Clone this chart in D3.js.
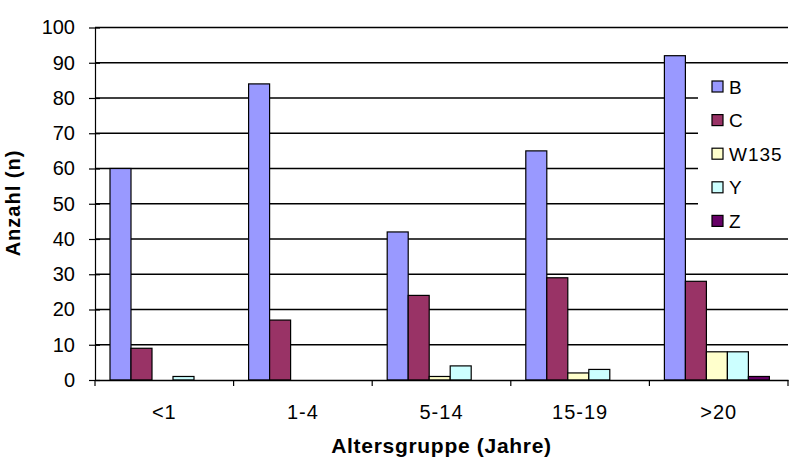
<!DOCTYPE html>
<html>
<head>
<meta charset="utf-8">
<script src="https://cdn.jsdelivr.net/npm/d3@7"></script>
<style>
  body { margin: 0; background: #fff; }
  text { font-family: "Liberation Sans", Arial, sans-serif; fill: #000; }
</style>
</head>
<body>
<div id="chart"></div>
<script>
// Chart data
const categories = ["<1", "1-4", "5-14", "15-19", ">20"];
const seriesNames = ["B", "C", "W135", "Y", "Z"];
const valuesB = [60, 84, 42, 65, 92];
const valuesC = [9, 17, 24, 29, 28];
const valuesW135 = [0, 0, 1, 2, 8];
const valuesY = [1, 0, 4, 3, 8];
const valuesZ = [0, 0, 0, 0, 1];
const seriesColors = ["#9999FF", "#993366", "#FFFFCC", "#CCFFFF", "#660066"];
const yTicks = [0, 10, 20, 30, 40, 50, 60, 70, 80, 90, 100];

const seriesValues = [valuesB, valuesC, valuesW135, valuesY, valuesZ];

const WIDTH = 800;
const HEIGHT = 470;
const PLOT = { left: 95, right: 788, top: 27.5, bottom: 380 };

const svg = d3
  .select("#chart")
  .append("svg")
  .attr("width", WIDTH)
  .attr("height", HEIGHT);

const xScaler = d3
  .scaleBand()
  .domain(categories)
  .range([PLOT.left, PLOT.right])
  .padding(0);

// bar slots inside one category
const innerScaler = d3
  .scaleBand()
  .domain(seriesNames)
  .range([15, 15 + 5 * 21])
  .padding(0);

const yScaler = d3.scaleLinear([0, 100], [PLOT.bottom, PLOT.top]);

// Gridlines
svg
  .append("g")
  .selectAll("line")
  .data(yTicks.filter((d) => d > 0))
  .enter()
  .append("line")
  .attr("x1", PLOT.left)
  .attr("x2", PLOT.right)
  .attr("y1", (d) => yScaler(d))
  .attr("y2", (d) => yScaler(d))
  .attr("stroke", "#000")
  .attr("stroke-width", 1.5);

// Legend background (covers gridlines)
const legendStep = 33.6;
svg
  .append("rect")
  .attr("x", 698)
  .attr("y", 66)
  .attr("width", 92)
  .attr("height", 172)
  .attr("fill", "#fff");

// Bars
const barData = [];
seriesNames.forEach((s, si) => {
  categories.forEach((c, ci) => {
    barData.push({ series: s, category: c, value: seriesValues[si][ci], color: seriesColors[si] });
  });
});

svg
  .append("g")
  .selectAll("rect")
  .data(barData.filter((d) => d.value > 0))
  .enter()
  .append("rect")
  .attr("x", (d) => xScaler(d.category) + innerScaler(d.series))
  .attr("y", (d) => yScaler(d.value))
  .attr("width", innerScaler.bandwidth())
  .attr("height", (d) => yScaler(0) - yScaler(d.value))
  .attr("fill", (d) => d.color)
  .attr("stroke", "#000")
  .attr("stroke-width", 1.2);

// Y axis
const yAxis = svg
  .append("g")
  .attr("transform", `translate(${PLOT.left},0)`)
  .call(d3.axisLeft(yScaler).tickValues(yTicks).tickSize(6).tickSizeOuter(0));
yAxis.select(".domain").attr("stroke", "#000").attr("stroke-width", 1.2);
yAxis.selectAll(".tick line").attr("x2", 5).attr("x1", -6).attr("stroke-width", 1.2);
yAxis
  .selectAll(".tick text")
  .style("font-size", "20px")
  .style("font-family", "Liberation Sans, Arial, sans-serif")
  .attr("x", -20);

// X axis
const xAxis = svg
  .append("g")
  .attr("transform", `translate(0,${PLOT.bottom})`)
  .call(d3.axisBottom(xScaler).tickSize(0));
xAxis.select(".domain").attr("stroke", "#000").attr("stroke-width", 1.5);
xAxis
  .selectAll(".tick text")
  .attr("dy", null)
  .attr("y", 38.5)
  .style("font-size", "20px")
  .style("letter-spacing", "1px")
  .style("font-family", "Liberation Sans, Arial, sans-serif");

// Category boundary ticks
svg
  .append("g")
  .selectAll("line")
  .data(categories.concat(["end"]))
  .enter()
  .append("line")
  .attr("x1", (d, i) => (i < categories.length ? xScaler(d) : PLOT.right))
  .attr("x2", (d, i) => (i < categories.length ? xScaler(d) : PLOT.right))
  .attr("y1", PLOT.bottom)
  .attr("y2", PLOT.bottom + 6)
  .attr("stroke", "#000")
  .attr("stroke-width", 1.2);

// Axis titles
svg
  .append("text")
  .attr("x", (PLOT.left + PLOT.right) / 2)
  .attr("y", 453)
  .attr("text-anchor", "middle")
  .style("font-size", "21px")
  .style("font-weight", "bold")
  .style("letter-spacing", "0.7px")
  .text("Altersgruppe (Jahre)");

svg
  .append("text")
  .attr("text-anchor", "middle")
  .attr("transform", "translate(20,203) rotate(-90)")
  .style("font-size", "20px")
  .style("font-weight", "bold")
  .style("letter-spacing", "1px")
  .text("Anzahl (n)");

// Legend
const legend = svg
  .append("g")
  .selectAll("g")
  .data(seriesNames)
  .enter()
  .append("g")
  .attr("transform", (d, i) => `translate(712,${86.5 + i * legendStep})`);

legend
  .append("rect")
  .attr("x", 0)
  .attr("y", -5.5)
  .attr("width", 11)
  .attr("height", 11)
  .attr("fill", (d, i) => seriesColors[i])
  .attr("stroke", "#000")
  .attr("stroke-width", 1.2);

legend
  .append("text")
  .attr("x", 17)
  .attr("y", 7)
  .style("font-size", "19px")
  .style("letter-spacing", "1px")
  .text((d) => d);
</script>
</body>
</html>
